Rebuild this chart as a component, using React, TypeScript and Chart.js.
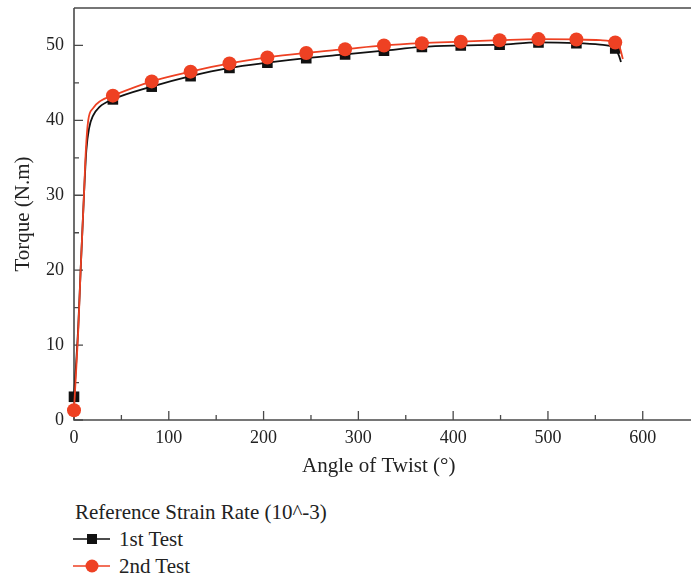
import React, { useEffect, useRef } from "react";
import { Chart, registerables } from "chart.js";

Chart.register(...registerables);

// ---- data ----
const markerAngles = [0, 41, 82, 123, 164, 204, 245, 286, 327, 367, 408, 449, 490, 530, 571];
const test1Markers = [3.1, 42.8, 44.5, 45.9, 47.0, 47.7, 48.3, 48.8, 49.3, 49.8, 50.0, 50.1, 50.4, 50.3, 49.6];
const test2Markers = [1.3, 43.3, 45.2, 46.5, 47.6, 48.4, 49.0, 49.5, 50.0, 50.3, 50.5, 50.7, 50.85, 50.8, 50.4];

const test1CurveAngles = [0, 2, 4.5, 7, 10.5, 13, 16, 20, 27, 41, 82, 123, 164, 204, 245, 286, 327, 367, 408, 449, 490, 530, 555, 571, 575, 577];
const test1CurveValues = [3.1, 7, 12.5, 20, 30, 36, 39, 40.6, 41.8, 42.8, 44.5, 45.9, 47.0, 47.7, 48.3, 48.8, 49.3, 49.8, 50.0, 50.1, 50.4, 50.3, 50.1, 49.6, 48.6, 47.8];

const test2CurveAngles = [0, 2, 4.5, 7, 10.5, 12.5, 15, 20, 28, 41, 82, 123, 164, 204, 245, 286, 327, 367, 408, 449, 490, 530, 555, 571, 576, 579];
const test2CurveValues = [1.3, 6, 12, 20, 30, 36, 40, 41.6, 42.6, 43.3, 45.2, 46.5, 47.6, 48.4, 49.0, 49.5, 50.0, 50.3, 50.5, 50.7, 50.85, 50.8, 50.7, 50.4, 49.6, 48.2];

const xTickValues = [0, 100, 200, 300, 400, 500, 600];
const xMinorValues = [50, 150, 250, 350, 450, 550];
const yTickValues = [0, 10, 20, 30, 40, 50];
const yMinorValues = [5, 15, 25, 35, 45];

const legendTitle = "Reference Strain Rate (10^-3)";
const seriesNames = ["1st Test", "2nd Test"];
const xTitle = "Angle of Twist (°)";
const yTitle = "Torque (N.m)";

const BLACK = "#111111";
const RED = "#ee4123";
const AXIS = "#4a4a4a";
const TEXT = "#222222";
const FONT = "'Liberation Serif', 'DejaVu Serif', serif";
const TICK_SIZE = 18;
const TITLE_SIZE = 21;

const zip = (xs: number[], ys: number[]) => xs.map((x, i) => ({ x, y: ys[i] }));

const axisPlugin = {
  id: "axisFrame",
  beforeDatasetsDraw(chart: any) {
    const { ctx, chartArea } = chart;
    const { left, top, bottom } = chartArea;
    const x = chart.scales.x;
    const y = chart.scales.y;
    const w = chart.width;
    ctx.save();
    ctx.strokeStyle = AXIS;
    ctx.lineWidth = 1.6;
    ctx.beginPath();
    ctx.moveTo(left, top);
    ctx.lineTo(left, bottom);
    ctx.lineTo(w, bottom);
    ctx.moveTo(left, top);
    ctx.lineTo(w, top);
    ctx.stroke();
    ctx.lineWidth = 1.3;
    ctx.beginPath();
    xTickValues.forEach((v) => {
      const p = x.getPixelForValue(v);
      ctx.moveTo(p, bottom);
      ctx.lineTo(p, bottom - 9);
    });
    xMinorValues.forEach((v) => {
      const p = x.getPixelForValue(v);
      ctx.moveTo(p, bottom);
      ctx.lineTo(p, bottom - 5);
    });
    yTickValues.forEach((v) => {
      const p = y.getPixelForValue(v);
      ctx.moveTo(left, p);
      ctx.lineTo(left + 9, p);
    });
    yMinorValues.forEach((v) => {
      const p = y.getPixelForValue(v);
      ctx.moveTo(left, p);
      ctx.lineTo(left + 5, p);
    });
    ctx.stroke();
    ctx.restore();
  },
};

function LegendMarker({ color, shape }: { color: string; shape: "square" | "circle" }) {
  return (
    <svg width={38} height={16} style={{ display: "block" }}>
      <line x1={0} y1={8} x2={37} y2={8} stroke={color} strokeWidth={1.6} />
      {shape === "square" ? (
        <rect x={14} y={3} width={10} height={10} fill={color} />
      ) : (
        <circle cx={19} cy={8} r={6.5} fill={color} />
      )}
    </svg>
  );
}

export default function App() {
  const canvasRef = useRef<HTMLCanvasElement | null>(null);

  useEffect(() => {
    if (!canvasRef.current) return;
    const chart = new Chart(canvasRef.current, {
      type: "line",
      data: {
        datasets: [
          {
            label: seriesNames[1] + " markers",
            data: zip(markerAngles, test2Markers),
            showLine: false,
            pointStyle: "circle",
            pointRadius: 7,
            backgroundColor: RED,
            borderColor: RED,
            borderWidth: 0,
            order: 0,
          },
          {
            label: seriesNames[1],
            data: zip(test2CurveAngles, test2CurveValues),
            borderColor: RED,
            borderWidth: 1.8,
            pointRadius: 0,
            cubicInterpolationMode: "monotone",
            order: 1,
          },
          {
            label: seriesNames[0] + " markers",
            data: zip(markerAngles, test1Markers),
            showLine: false,
            pointStyle: "rect",
            pointRadius: 7.5,
            backgroundColor: BLACK,
            borderColor: BLACK,
            borderWidth: 0,
            order: 2,
          },
          {
            label: seriesNames[0],
            data: zip(test1CurveAngles, test1CurveValues),
            borderColor: BLACK,
            borderWidth: 1.8,
            pointRadius: 0,
            cubicInterpolationMode: "monotone",
            order: 3,
          },
        ],
      },
      options: {
        animation: false,
        responsive: true,
        maintainAspectRatio: false,
        clip: false as any,
        layout: { padding: { top: 8, left: 0, right: 0, bottom: 0 } },
        plugins: {
          legend: { display: false },
          tooltip: { enabled: false },
        },
        scales: {
          x: {
            type: "linear",
            min: 0,
            max: 643,
            grid: { display: false, drawTicks: false },
            border: { display: false },
            afterBuildTicks: (s: any) => {
              s.ticks = xTickValues.map((v) => ({ value: v }));
            },
            afterFit: (s: any) => {
              s.height = 70;
              s.paddingLeft = 0;
              s.paddingRight = 0;
            },
            ticks: {
              padding: 7,
              color: TEXT,
              font: { family: FONT, size: TICK_SIZE },
              maxRotation: 0,
            },
            title: {
              display: true,
              text: xTitle,
              color: TEXT,
              font: { family: FONT, size: TITLE_SIZE },
              padding: { top: 0, bottom: 11 },
            },
          },
          y: {
            type: "linear",
            min: 0,
            max: 55,
            grid: { display: false, drawTicks: false },
            border: { display: false },
            afterBuildTicks: (s: any) => {
              s.ticks = yTickValues.map((v) => ({ value: v }));
            },
            afterFit: (s: any) => {
              s.width = 74;
              s.paddingTop = 0;
              s.paddingBottom = 0;
            },
            ticks: {
              padding: 10,
              color: TEXT,
              font: { family: FONT, size: TICK_SIZE },
            },
            title: {
              display: true,
              text: yTitle,
              color: TEXT,
              font: { family: FONT, size: TITLE_SIZE },
              padding: { top: 11, bottom: 0 },
            },
          },
        },
      },
      plugins: [axisPlugin],
    });
    return () => chart.destroy();
  }, []);

  const textStyle: React.CSSProperties = {
    fontFamily: FONT,
    fontSize: TITLE_SIZE,
    color: TEXT,
    lineHeight: "24px",
    whiteSpace: "nowrap",
  };

  return (
    <div style={{ position: "absolute", left: 0, top: 0, width: 691, height: 577, background: "#fff" }}>
      <div style={{ position: "absolute", left: 0, top: 0, width: 691, height: 490 }}>
        <canvas ref={canvasRef} />
      </div>
      <div style={{ ...textStyle, position: "absolute", left: 75, top: 500 }}>{legendTitle}</div>
      <div style={{ position: "absolute", left: 73, top: 527, display: "flex", alignItems: "center" }}>
        <LegendMarker color={BLACK} shape="square" />
        <span style={{ ...textStyle, marginLeft: 8 }}>{seriesNames[0]}</span>
      </div>
      <div style={{ position: "absolute", left: 73, top: 554, display: "flex", alignItems: "center" }}>
        <LegendMarker color={RED} shape="circle" />
        <span style={{ ...textStyle, marginLeft: 8 }}>{seriesNames[1]}</span>
      </div>
    </div>
  );
}
